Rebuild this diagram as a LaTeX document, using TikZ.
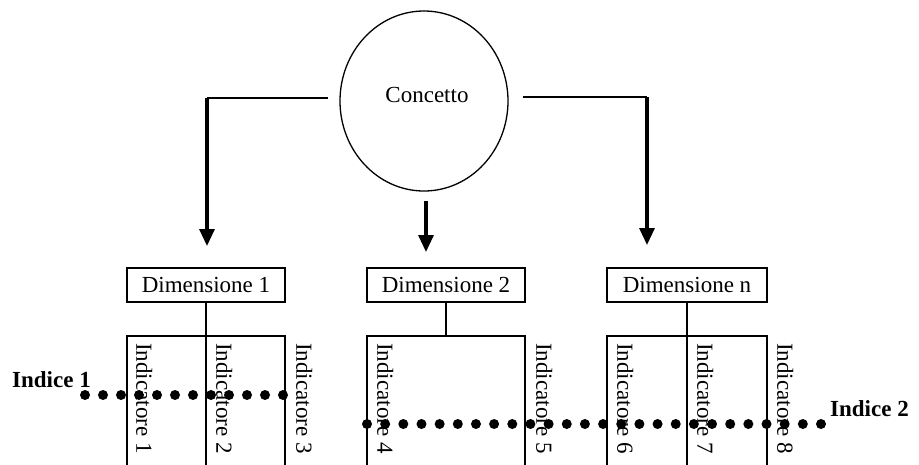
\documentclass[tikz,border=0pt]{standalone}
\usepackage{fontspec}
\setmainfont{Liberation Serif}
\usetikzlibrary{arrows.meta,shapes.geometric}
\begin{document}
\begin{tikzpicture}[x=1pt,y=-1pt,
  lbl/.style={font=\fontsize{23}{27}\selectfont},
  dimbox/.style={draw,line width=2pt,minimum height=34pt,inner sep=0pt,lbl},
  frame/.style={line width=2pt},
  hline/.style={line width=1.2pt},
  downarrow/.style={line width=3.2pt,-{Triangle[width=15pt,length=17pt]}},
  ind/.style={rotate=-90,anchor=south west,inner sep=0pt,lbl},
  dotmark/.style={fill=black}
]
\useasboundingbox (0,0) rectangle (919,464);

% concept
\node[ellipse,draw,line width=1.3pt,minimum width=168pt,minimum height=180pt,inner sep=0pt] (concetto) at (424,101) {};
\node[lbl] (concettotext) at (427,95) {Concetto};

% dimensions
\node[dimbox,minimum width=158pt] (dim1) at (206,285) {Dimensione 1};
\node[dimbox,minimum width=158pt] (dim2) at (446,285) {Dimensione 2};
\node[dimbox,minimum width=160pt] (dimn) at (687,285) {Dimensione n};

% arrows from the concept to the dimensions
\coordinate (lstart) at (328,98);
\coordinate (lcorner) at (207,98);
\coordinate (ltip) at (207,246);
\coordinate (rstart) at (523,97);
\coordinate (rcorner) at (647,97);
\coordinate (rtip) at (647,245);
\coordinate (mstart) at (426,201);
\coordinate (mtip) at (426,252);
\draw[hline] (lstart) -- (lcorner);
\draw[downarrow] (lcorner) -- (ltip);
\draw[hline] (rstart) -- (rcorner);
\draw[downarrow] (rcorner) -- (rtip);
\draw[downarrow] (mstart) -- (mtip);

% indicator frames
\draw[frame] (127,470) |- (285,336) -- (285,470);
\draw[frame] (dim1.south) -- (dim1.south |- 0,470);
\draw[frame] (367,470) |- (525,336) -- (525,470);
\draw[frame] (dim2.south) -- (dim2.south |- 0,336);
\draw[frame] (607,470) |- (767,336) -- (767,470);
\draw[frame] (dimn.south) -- (dimn.south |- 0,470);

% indicators
\node[ind] (i1) at (136,343) {Indicatore 1};
\node[ind] (i2) at (216,343) {Indicatore 2};
\node[ind] (i3) at (296,343) {Indicatore 3};
\node[ind] (i4) at (377,343) {Indicatore 4};
\node[ind] (i5) at (536,343) {Indicatore 5};
\node[ind] (i6) at (617,343) {Indicatore 6};
\node[ind] (i7) at (697,343) {Indicatore 7};
\node[ind] (i8) at (777,343) {Indicatore 8};

% indices
\node[lbl,font=\fontsize{23}{27}\selectfont\bfseries,anchor=base west,inner sep=0pt] (indice1) at (12,387) {Indice 1};
\node[lbl,font=\fontsize{23}{27}\selectfont\bfseries,anchor=base west,inner sep=0pt] (indice2) at (830,416) {Indice 2};

\foreach \i in {0,...,11} \fill[dotmark] (85+\i*18,395) circle (5pt);
\foreach \i in {0,...,25} \fill[dotmark] (367+\i*18.16,424) circle (5pt);
\end{tikzpicture}
\end{document}
